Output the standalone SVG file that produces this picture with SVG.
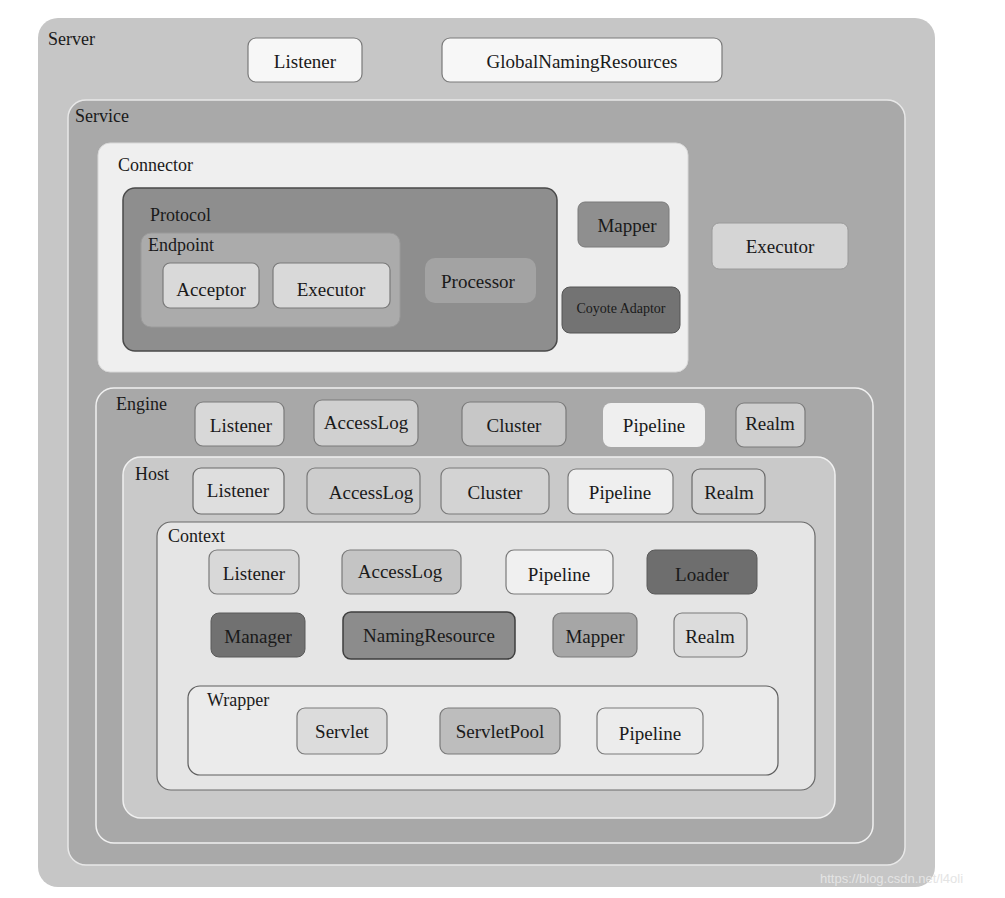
<svg xmlns="http://www.w3.org/2000/svg" width="1005" height="898" viewBox="0 0 1005 898">
<style>
text{font-family:"Liberation Serif","Times New Roman",serif;fill:#1a1a1a}
.lbl{font-size:18px}
.n{font-size:19px;text-anchor:middle;dominant-baseline:central}
.b{stroke:#7a7a7a;stroke-width:1.2}
</style>
<rect width="1005" height="898" fill="#ffffff"/>
<g id="server">
<rect x="38" y="18" width="897" height="869" rx="20" fill="#c6c6c6"/>
<text class="lbl" x="48" y="45">Server</text>
</g>
<g id="server-listener"><rect class="b" x="248" y="38" width="114" height="44" rx="8" fill="#f7f7f7"/><text class="n" x="305" y="61">Listener</text></g>
<g id="global-naming"><rect class="b" x="442" y="38" width="280" height="44" rx="8" fill="#f7f7f7"/><text class="n" x="582" y="61">GlobalNamingResources</text></g>
<g id="service">
<rect x="68" y="100" width="837" height="765" rx="18" fill="#a9a9a9" stroke="#e8e8e8" stroke-width="1.5"/>
<text class="lbl" x="75" y="122">Service</text>
</g>
<g id="connector">
<rect x="98" y="143" width="590" height="229" rx="12" fill="#efefef" stroke="#d8d8d8"/>
<text class="lbl" x="118" y="171">Connector</text>
</g>
<g id="protocol">
<rect x="123" y="188" width="434" height="163" rx="12" fill="#8e8e8e" stroke="#4a4a4a" stroke-width="1.5"/>
<text class="lbl" x="150" y="221">Protocol</text>
</g>
<g id="endpoint">
<rect x="141" y="233" width="259" height="94" rx="10" fill="#ababab" stroke="#9a9a9a"/>
<text class="lbl" x="148" y="251">Endpoint</text>
</g>
<g id="acceptor"><rect class="b" x="163" y="263" width="96" height="45" rx="7" fill="#d9d9d9"/><text class="n" x="211" y="289">Acceptor</text></g>
<g id="endpoint-executor"><rect class="b" x="273" y="263" width="117" height="45" rx="7" fill="#d9d9d9"/><text class="n" x="331" y="289">Executor</text></g>
<g id="processor"><rect x="425" y="258" width="111" height="45" rx="10" fill="#a3a3a3"/><text class="n" x="478" y="281">Processor</text></g>
<g id="connector-mapper"><rect x="578" y="202" width="91" height="45" rx="7" fill="#8f8f8f" stroke="#7a7a7a"/><text class="n" x="627" y="225">Mapper</text></g>
<g id="coyote-adaptor"><rect x="562" y="287" width="118" height="46" rx="8" fill="#737373" stroke="#555"/><text class="n" x="621" y="308" style="font-size:14px">Coyote Adaptor</text></g>
<g id="service-executor"><rect x="712" y="223" width="136" height="46" rx="7" fill="#d5d5d5" stroke="#9a9a9a"/><text class="n" x="780" y="246">Executor</text></g>
<g id="engine">
<rect x="96" y="388" width="777" height="455" rx="18" fill="#a8a8a8" stroke="#f0f0f0" stroke-width="1.5"/>
<text class="lbl" x="116" y="410">Engine</text>
</g>
<g id="engine-listener"><rect class="b" x="195" y="402" width="89" height="44" rx="8" fill="#d8d8d8"/><text class="n" x="241" y="425">Listener</text></g>
<g id="engine-accesslog"><rect class="b" x="314" y="400" width="104" height="46" rx="8" fill="#d0d0d0"/><text class="n" x="366" y="422">AccessLog</text></g>
<g id="engine-cluster"><rect class="b" x="462" y="402" width="104" height="44" rx="8" fill="#c7c7c7"/><text class="n" x="514" y="425">Cluster</text></g>
<g id="engine-pipeline"><rect x="603" y="403" width="102" height="44" rx="8" fill="#efefef"/><text class="n" x="654" y="425">Pipeline</text></g>
<g id="engine-realm"><rect class="b" x="736" y="403" width="69" height="44" rx="8" fill="#cfcfcf"/><text class="n" x="770" y="423">Realm</text></g>
<g id="host">
<rect x="123" y="457" width="712" height="361" rx="18" fill="#c9c9c9" stroke="#f0f0f0" stroke-width="1.5"/>
<text class="lbl" x="135" y="480">Host</text>
</g>
<g id="host-listener"><rect x="193" y="468" width="91" height="46" rx="8" fill="#dedede" stroke="#6a6a6a" stroke-width="1.2"/><text class="n" x="238" y="490">Listener</text></g>
<g id="host-accesslog"><rect class="b" x="307" y="468" width="113" height="46" rx="8" fill="#cdcdcd"/><text class="n" x="371" y="492">AccessLog</text></g>
<g id="host-cluster"><rect class="b" x="441" y="468" width="108" height="46" rx="8" fill="#d3d3d3"/><text class="n" x="495" y="492">Cluster</text></g>
<g id="host-pipeline"><rect class="b" x="568" y="469" width="105" height="45" rx="8" fill="#efefef"/><text class="n" x="620" y="492">Pipeline</text></g>
<g id="host-realm"><rect x="692" y="469" width="73" height="45" rx="8" fill="#d3d3d3" stroke="#6a6a6a" stroke-width="1.2"/><text class="n" x="729" y="492">Realm</text></g>
<g id="context">
<rect x="157" y="522" width="658" height="268" rx="14" fill="#e5e5e5" stroke="#6a6a6a" stroke-width="1.2"/>
<text class="lbl" x="168" y="542">Context</text>
</g>
<g id="context-listener"><rect class="b" x="209" y="550" width="90" height="44" rx="8" fill="#d8d8d8"/><text class="n" x="254" y="573">Listener</text></g>
<g id="context-accesslog"><rect class="b" x="342" y="550" width="119" height="44" rx="8" fill="#c4c4c4"/><text class="n" x="400" y="571">AccessLog</text></g>
<g id="context-pipeline"><rect class="b" x="506" y="550" width="107" height="44" rx="8" fill="#f0f0f0"/><text class="n" x="559" y="574">Pipeline</text></g>
<g id="loader"><rect x="647" y="550" width="110" height="44" rx="8" fill="#6e6e6e" stroke="#5a5a5a"/><text class="n" x="702" y="574">Loader</text></g>
<g id="manager"><rect x="211" y="613" width="94" height="44" rx="8" fill="#717171" stroke="#5a5a5a"/><text class="n" x="258" y="636">Manager</text></g>
<g id="naming-resource"><rect x="343" y="612" width="172" height="47" rx="8" fill="#8c8c8c" stroke="#3e3e3e" stroke-width="1.5"/><text class="n" x="429" y="635">NamingResource</text></g>
<g id="context-mapper"><rect class="b" x="553" y="613" width="84" height="44" rx="8" fill="#a6a6a6"/><text class="n" x="595" y="636">Mapper</text></g>
<g id="context-realm"><rect class="b" x="674" y="613" width="73" height="44" rx="8" fill="#dcdcdc"/><text class="n" x="710" y="636">Realm</text></g>
<g id="wrapper">
<rect x="188" y="686" width="590" height="89" rx="12" fill="#ebebeb" stroke="#5e5e5e" stroke-width="1.2"/>
<text class="lbl" x="207" y="706">Wrapper</text>
</g>
<g id="servlet"><rect class="b" x="297" y="708" width="90" height="46" rx="8" fill="#dcdcdc"/><text class="n" x="342" y="731">Servlet</text></g>
<g id="servlet-pool"><rect class="b" x="440" y="708" width="120" height="46" rx="8" fill="#bdbdbd"/><text class="n" x="500" y="731">ServletPool</text></g>
<g id="wrapper-pipeline"><rect class="b" x="597" y="708" width="106" height="46" rx="8" fill="#ececec"/><text class="n" x="650" y="733">Pipeline</text></g>
<g id="connectors"></g>
<text x="820" y="883" style="font-family:'Liberation Sans',Arial,sans-serif;font-size:13px;fill:#e4e4e4">https://blog.csdn.net/l4oli</text>
</svg>
